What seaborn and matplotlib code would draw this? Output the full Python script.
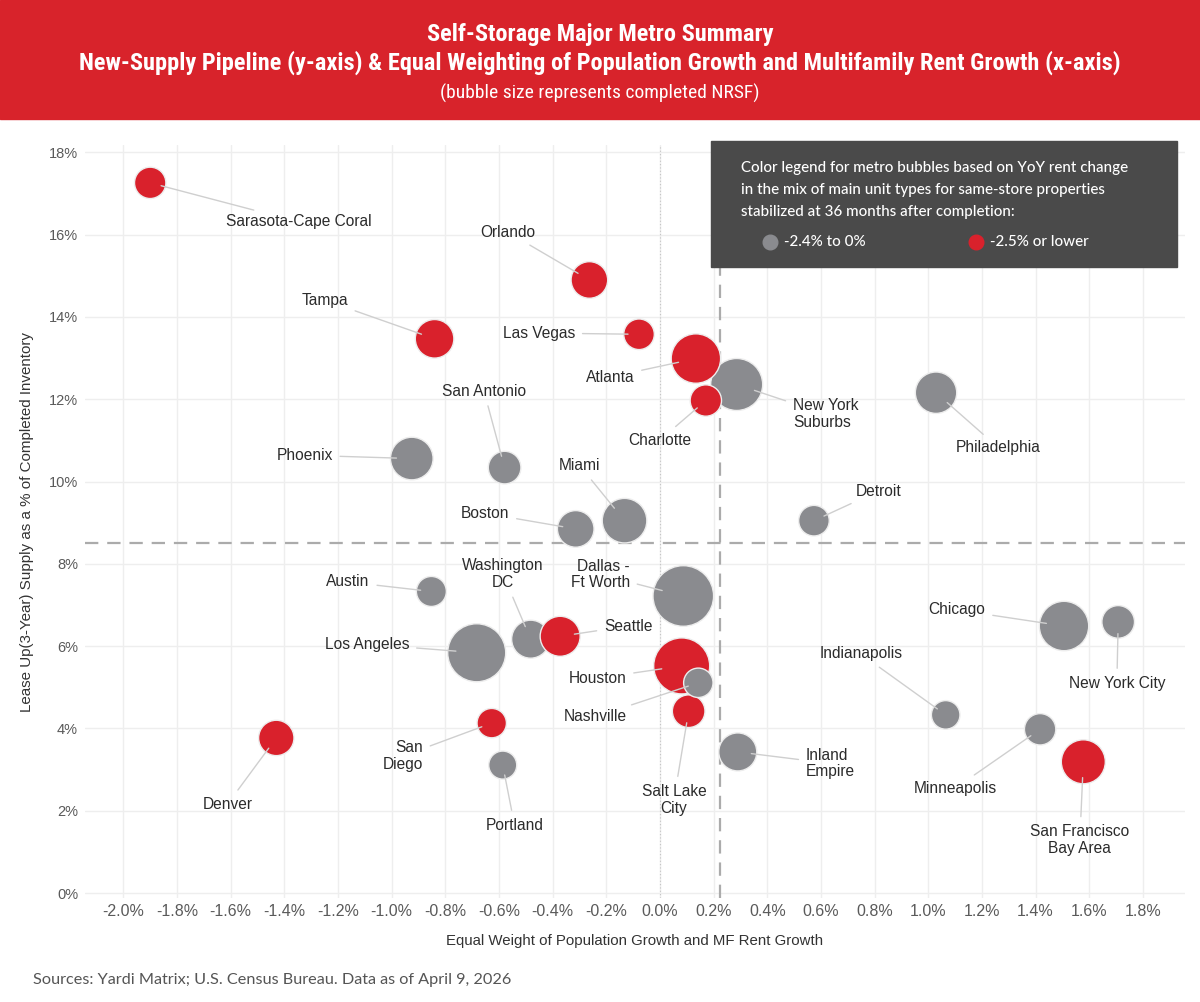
import matplotlib
matplotlib.use("Agg")
import numpy as np
import pandas as pd
import matplotlib.pyplot as plt
import seaborn as sb
from matplotlib.patches import Rectangle
from matplotlib.lines import Line2D

# Datos (orden = orden de dibujo)
metros = ["Sarasota-Cape Coral", "Orlando", "Tampa", "Las Vegas", "New York\nSuburbs",
          "Atlanta", "Charlotte", "Philadelphia", "Phoenix", "San Antonio",
          "Boston", "Miami", "Detroit", "Dallas -\nFt Worth", "Austin",
          "Washington\nDC", "Seattle", "Los Angeles", "Houston", "Salt Lake\nCity",
          "Nashville", "San\nDiego", "Portland", "Inland\nEmpire", "Denver",
          "Chicago", "New York City", "Indianapolis", "Minneapolis", "San Francisco\nBay Area"]
growth = [-1.90, -0.263, -0.84, -0.078, 0.286,
          0.134, 0.171, 1.029, -0.925, -0.579,
          -0.314, -0.132, 0.574, 0.087, -0.852,
          -0.482, -0.372, -0.683, 0.081, 0.107,
          0.143, -0.627, -0.586, 0.29, -1.43,
          1.506, 1.708, 1.065, 1.417, 1.578]
supply = [17.26, 14.90, 13.47, 13.58, 12.36,
          12.99, 11.97, 12.16, 10.56, 10.34,
          8.85, 9.05, 9.05, 7.22, 7.33,
          6.17, 6.24, 5.84, 5.52, 4.42,
          5.11, 4.13, 3.11, 3.43, 3.77,
          6.49, 6.59, 4.33, 3.98, 3.19]
nrsf = [24.6, 33.5, 37.2, 23.4, 67.6,
        61.0, 24.6, 42.8, 45.4, 26.6,
        33.5, 49.7, 23.4, 91.8, 22.5,
        36.1, 40.0, 84.1, 78.4, 26.6,
        21.6, 21.6, 19.6, 36.1, 31.3,
        61.0, 26.6, 20.4, 24.6, 48.4]
rent_band = ["low", "low", "low", "low", "mid",
             "low", "low", "mid", "mid", "mid",
             "mid", "mid", "mid", "mid", "mid",
             "mid", "low", "mid", "low", "low",
             "mid", "low", "mid", "mid", "low",
             "mid", "mid", "mid", "mid", "low"]
band_names = {"mid": "-2.4% to 0%", "low": "-2.5% or lower"}
avg_x = 0.225
avg_y = 8.5

# posiciones de las etiquetas (x, y, alineacion)
label_pos = [(-1.346, 16.31, "center"), (-0.567, 16.06, "center"), (-1.250, 14.41, "center"),
             (-0.451, 13.61, "center"), (0.495, 11.64, "left"), (-0.186, 12.54, "center"),
             (0.0, 11.01, "center"), (1.262, 10.82, "center"), (-1.325, 10.64, "center"),
             (-0.656, 12.20, "center"), (-0.652, 9.23, "center"), (-0.298, 10.38, "center"),
             (0.814, 9.77, "center"), (-0.112, 7.74, "right"), (-1.163, 7.56, "center"),
             (-0.585, 7.75, "center"), (-0.118, 6.49, "center"), (-1.092, 6.05, "center"),
             (-0.233, 5.22, "center"), (0.052, 2.27, "center"), (-0.242, 4.28, "center"),
             (-0.883, 3.33, "right"), (-0.542, 1.65, "center"), (0.544, 3.15, "left"),
             (-1.612, 2.16, "center"), (1.107, 6.88, "center"), (1.703, 5.10, "center"),
             (0.749, 5.81, "center"), (1.101, 2.55, "center"), (1.565, 1.29, "center")]

RED = "#D9212C"
GREY = "#8A8B8F"

df = pd.DataFrame({"metro": metros, "growth": growth, "supply": supply,
                   "nrsf": nrsf, "band": rent_band})

sb.set_theme(style="whitegrid")
plt.rcParams["font.family"] = ["Liberation Sans", "DejaVu Sans"]

fig = plt.figure(figsize=(12, 10.02), dpi=100)
ax = fig.add_axes([85 / 1200, 1 - 898 / 1002, 1100 / 1200, 753 / 1002])

# area de la burbuja proporcional a NRSF
vmax = max(nrsf)
smax = 20.736 * vmax
sb.scatterplot(data=df, x="growth", y="supply", hue="band", size="nrsf",
               palette={"mid": GREY, "low": RED}, sizes=(0, smax), size_norm=(0, vmax),
               edgecolor="#EDEDED", linewidth=1, alpha=1, legend=False, ax=ax, zorder=2)

ax.axvline(0, color="#C4C4C4", ls=(0, (1, 2)), lw=0.8, zorder=1)
ax.axvline(avg_x, color="#ABABAB", ls=(0, (6, 4)), lw=1.6, zorder=1.1)
ax.axhline(avg_y, color="#ABABAB", ls=(0, (6, 4)), lw=1.6, zorder=1.1)

for i, name in enumerate(metros):
    lx, ly, ha = label_pos[i]
    r_pt = np.sqrt(smax * nrsf[i] / vmax) / 2
    ax.annotate(name, xy=(growth[i], supply[i]), xytext=(lx, ly), textcoords="data",
                ha=ha, va="center", fontsize=11.2, color="#2B2B2B", zorder=5,
                linespacing=1.15,
                arrowprops=dict(arrowstyle="-", color="#CFCFCF", lw=1,
                                shrinkA=3, shrinkB=0.72 * r_pt))

ax.set_xlim(-2.143, 1.957)
ax.set_ylim(-0.12, 18.18)
xt = np.round(np.arange(-2.0, 1.81, 0.2), 1)
ax.set_xticks(xt)
ax.set_xticklabels([f"{v:.1f}%" if v != 0 else "0.0%" for v in xt], fontsize=11.5, color="#5A5A5A")
yt = np.arange(0, 19, 2)
ax.set_yticks(yt)
ax.set_yticklabels([f"{v}%" for v in yt], fontsize=10.5, color="#5A5A5A")
ax.tick_params(axis="x", pad=4, length=0)
ax.tick_params(axis="y", pad=5, length=0)
ax.grid(True, color="#EEEEEE", lw=1)
ax.set_axisbelow(True)
for s in ax.spines.values():
    s.set_visible(False)

ax.set_xlabel("Equal Weight of Population Growth and MF Rent Growth",
              fontsize=10.8, color="#333333", labelpad=11)
ax.set_ylabel("Lease Up(3-Year) Supply as a % of Completed Inventory",
              fontsize=10.9, color="#333333", labelpad=11)

# Encabezado rojo
fig.add_artist(Rectangle((0, 1 - 119 / 1002), 1, 119 / 1002, transform=fig.transFigure,
                         color="#D8232B", zorder=0))
tfam = ["Roboto Condensed", "Liberation Sans"]
fig.text(0.5, 1 - 34 / 1002, "Self-Storage Major Metro Summary", ha="center", va="center",
         color="white", fontsize=17.6, fontweight="bold", family=tfam)
fig.text(0.5, 1 - 63 / 1002,
         "New-Supply Pipeline (y-axis) & Equal Weighting of Population Growth and Multifamily Rent Growth (x-axis)",
         ha="center", va="center", color="white", fontsize=17.6, fontweight="bold", family=tfam)
fig.text(0.5, 1 - 93 / 1002, "(bubble size represents completed NRSF)", ha="center", va="center",
         color="white", fontsize=14, family=tfam)

# Leyenda de colores
fig.add_artist(Rectangle((711 / 1200, 1 - 267 / 1002), 466 / 1200, 126 / 1002,
                         transform=fig.transFigure, color="#4A4A4A", zorder=10))
lfam = ["Lato", "DejaVu Sans"]
legend_lines = ["Color legend for metro bubbles based on YoY rent change",
                "in the mix of main unit types for same-store properties",
                "stabilized at 36 months after completion:"]
for k, line in enumerate(legend_lines):
    fig.text(741 / 1200, 1 - (168 + 22 * k) / 1002, line, ha="left", va="center",
             color="white", fontsize=10.9, fontweight="medium", family=lfam, zorder=11)
for px, col, key in [(770, GREY, "mid"), (976, RED, "low")]:
    fig.add_artist(Line2D([px / 1200], [1 - 242 / 1002], marker="o", markersize=10.5,
                          markerfacecolor=col, markeredgecolor=col, ls="none",
                          transform=fig.transFigure, zorder=11))
    fig.text((px + 14) / 1200, 1 - 242 / 1002, band_names[key], ha="left", va="center",
             color="white", fontsize=10.9, fontweight="medium", family=lfam, zorder=11)

fig.text(33 / 1200, 1 - 980 / 1002, "Sources: Yardi Matrix; U.S. Census Bureau. Data as of April 9, 2026",
         ha="left", va="center", color="#555555", fontsize=11.7, family=lfam)

fig.savefig("out.png", dpi=100)
